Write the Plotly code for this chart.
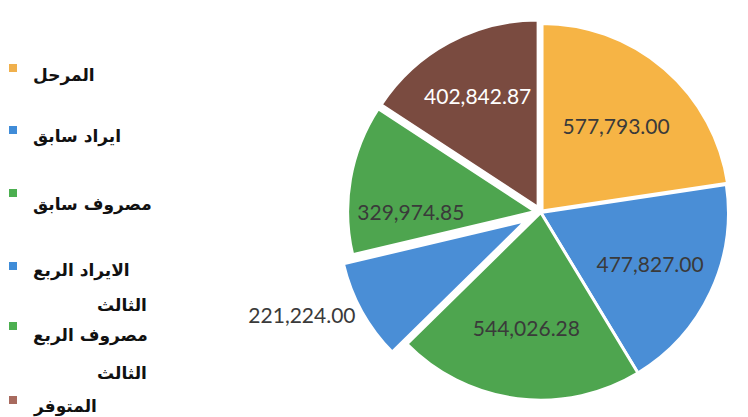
import plotly.graph_objects as go

# slices, clockwise from 12 o'clock
labels = ["المرحل", "ايراد سابق", "مصروف سابق", "الايراد الربع الثالث", "مصروف الربع الثالث", "المتوفر"]
values = [577793.00, 477827.00, 544026.28, 221224.00, 329974.85, 402842.87]

slice_colors = ["#F6B445", "#4A8ED6", "#4EA54F", "#4A8ED6", "#4EA54F", "#7A4B40"]
legend_colors = ["#F0B04C", "#3F8CD8", "#4CAF50", "#3F8CD8", "#4CAF50", "#A86A5E"]
text_colors = ["#3a3a3a", "#3a3a3a", "#3a3a3a", "#3a3a3a", "#3a3a3a", "#ffffff"]
pulls = [0.01, 0.0, 0.0, 0.09, 0.03, 0.03]
text_pos = ["inside", "inside", "inside", "outside", "inside", "inside"]

# the page body has an 8px margin, so the figure is shrunk to fit the window
OFF = 8
W, H = 748 - OFF, 417 - OFF


def px(x):
    return (x - OFF) / W


def py(y):
    return 1 - (y - OFF) / H


fig = go.Figure(go.Pie(
    labels=labels,
    values=values,
    sort=False,
    direction="clockwise",
    rotation=0,
    pull=pulls,
    marker=dict(colors=slice_colors, line=dict(color="white", width=3)),
    texttemplate="%{value:,.2f}",
    textposition=text_pos,
    insidetextorientation="horizontal",
    textfont=dict(family="Lato, Open Sans, sans-serif", size=21, color=text_colors),
    outsidetextfont=dict(family="Lato, Open Sans, sans-serif", size=21, color="#3a3a3a"),
    domain=dict(x=[0.44, 1.0], y=[0.0, 1.0]),
    hoverinfo="label+value",
))

# legend drawn by hand (Excel-style, wide spacing, wrapped Arabic)
marker_y = [68, 130, 193, 266, 326, 400]
text_y = [75, 137, 204, 270, 335, 406]
wrap_y = {3: 305, 4: 373}

shapes = []
annotations = []
font = dict(family="DejaVu Sans", size=17, color="#111111")
for i, lab in enumerate(labels):
    my = marker_y[i]
    shapes.append(dict(type="rect", xref="paper", yref="paper",
                       x0=px(9), x1=px(17), y0=py(my + 4), y1=py(my - 4),
                       fillcolor=legend_colors[i], line=dict(width=0)))
    if i in wrap_y:
        first, second = lab.rsplit(" ", 1)
    else:
        first, second = lab, None
    annotations.append(dict(text="<b>%s</b>" % first, xref="paper", yref="paper",
                            x=px(31), y=py(text_y[i]), xanchor="left", yanchor="middle",
                            showarrow=False, font=font))
    if second:
        annotations.append(dict(text="<b>%s</b>" % second, xref="paper", yref="paper",
                                x=px(149), y=py(wrap_y[i]), xanchor="right", yanchor="middle",
                                showarrow=False, font=font))

fig.update_layout(
    width=W, height=H,
    margin=dict(l=0, r=0, t=0, b=0, autoexpand=False),
    paper_bgcolor="white",
    plot_bgcolor="white",
    showlegend=False,
    uniformtext=dict(minsize=21, mode="show"),
    shapes=shapes,
    annotations=annotations,
)

fig.write_html("out.html")
